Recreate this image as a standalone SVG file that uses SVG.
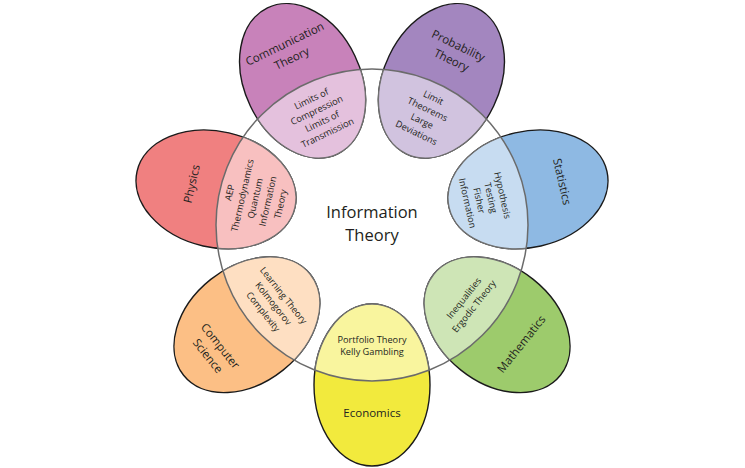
<svg xmlns="http://www.w3.org/2000/svg" width="745" height="468" viewBox="0 0 745 468">
<style>
  .petal { stroke: #1a1a1a; stroke-width: 1.4; }
  .inner { stroke: #707070; stroke-width: 1.4; }
  text { font-family: "Open Sans", "Liberation Sans", sans-serif; fill: #231f20; text-anchor: middle; }
  .outer-label { font-size: 11.5px; }
  .inner-label { font-size: 9.2px; }
  .core-label { font-size: 16.5px; }
  .ring { fill: none; stroke: #6b6b6b; stroke-width: 1.5; }
</style>
<defs>
  <clipPath id="inCircle" clipPathUnits="userSpaceOnUse">
    <circle cx="372" cy="225" r="156"/>
  </clipPath>
</defs>
<rect width="745" height="468" fill="#ffffff"/>

<!-- Communication Theory -->
<g id="communication-theory" transform="rotate(-25.714 372 225)">
  <ellipse class="petal" cx="372" cy="65" rx="58" ry="81" fill="#c882ba"/>
  <ellipse class="inner" cx="372" cy="65" rx="58" ry="81" fill="#e4c1dd" clip-path="url(#inCircle)"/>
  <text class="outer-label" x="372" y="28">Communication</text>
  <text class="outer-label" x="372" y="44">Theory</text>
  <text class="inner-label" x="372" y="88.3">Limits of</text>
  <text class="inner-label" x="372" y="100.8">Compression</text>
  <text class="inner-label" x="372" y="113.3">Limits of</text>
  <text class="inner-label" x="372" y="125.8">Transmission</text>
</g>

<!-- Probability Theory -->
<g id="probability-theory" transform="rotate(25.714 372 225)">
  <ellipse class="petal" cx="372" cy="65" rx="58" ry="81" fill="#a386bf"/>
  <ellipse class="inner" cx="372" cy="65" rx="58" ry="81" fill="#d1c3df" clip-path="url(#inCircle)"/>
  <text class="outer-label" x="372" y="30">Probability</text>
  <text class="outer-label" x="372" y="46">Theory</text>
  <text class="inner-label" x="372" y="86.8">Limit</text>
  <text class="inner-label" x="372" y="99.8">Theorems</text>
  <text class="inner-label" x="372" y="112.8">Large</text>
  <text class="inner-label" x="372" y="125.8">Deviations</text>
</g>

<!-- Statistics -->
<g id="statistics" transform="rotate(77.143 372 225)">
  <ellipse class="petal" cx="372" cy="65" rx="58" ry="81" fill="#8eb9e3"/>
  <ellipse class="inner" cx="372" cy="65" rx="58" ry="81" fill="#c7dcf1" clip-path="url(#inCircle)"/>
  <text class="outer-label" x="372" y="34">Statistics</text>
  <text class="inner-label" x="372" y="94.3">Hypothesis</text>
  <text class="inner-label" x="372" y="106.3">Testing</text>
  <text class="inner-label" x="372" y="118.3">Fisher</text>
  <text class="inner-label" x="372" y="130.3">Information</text>
</g>

<!-- Physics -->
<g id="physics" transform="rotate(-77.143 372 225)">
  <ellipse class="petal" cx="372" cy="65" rx="58" ry="81" fill="#f08080"/>
  <ellipse class="inner" cx="372" cy="65" rx="58" ry="81" fill="#f8c0c0" clip-path="url(#inCircle)"/>
  <text class="outer-label" x="372" y="44">Physics</text>
  <text class="inner-label" x="372" y="82.3">AEP</text>
  <text class="inner-label" x="372" y="95.3">Thermodynamics</text>
  <text class="inner-label" x="372" y="108.3">Quantum</text>
  <text class="inner-label" x="372" y="121.3">Information</text>
  <text class="inner-label" x="372" y="134.3">Theory</text>
</g>

<!-- Mathematics -->
<g id="mathematics" transform="rotate(-51.429 372 225)">
  <ellipse class="petal" cx="372" cy="385" rx="58" ry="81" fill="#9dcb6c"/>
  <ellipse class="inner" cx="372" cy="385" rx="58" ry="81" fill="#cee5b6" clip-path="url(#inCircle)"/>
  <text class="outer-label" x="372" y="420">Mathematics</text>
  <text class="inner-label" x="372" y="345.7">Inequalities</text>
  <text class="inner-label" x="372" y="358.7">Ergodic Theory</text>
</g>

<!-- Economics -->
<g id="economics">
  <ellipse class="petal" cx="372" cy="385" rx="58" ry="81" fill="#f2ea3d"/>
  <ellipse class="inner" cx="372" cy="385" rx="58" ry="81" fill="#f9f59e" clip-path="url(#inCircle)"/>
  <text class="outer-label" x="372" y="417">Economics</text>
  <text class="inner-label" x="372" y="343">Portfolio Theory</text>
  <text class="inner-label" x="372" y="355">Kelly Gambling</text>
</g>

<!-- Computer Science -->
<g id="computer-science" transform="rotate(51.429 372 225)">
  <ellipse class="petal" cx="372" cy="385" rx="58" ry="81" fill="#fcbf85"/>
  <ellipse class="inner" cx="372" cy="385" rx="58" ry="81" fill="#fedfc2" clip-path="url(#inCircle)"/>
  <text class="outer-label" x="372" y="423">Computer</text>
  <text class="outer-label" x="372" y="439">Science</text>
  <text class="inner-label" x="372" y="341.3">Learning Theory</text>
  <text class="inner-label" x="372" y="354.3">Kolmogorov</text>
  <text class="inner-label" x="372" y="367.3">Complexity</text>
</g>

<!-- Central node -->
<g id="information-theory">
  <circle class="ring" cx="372" cy="225" r="156"/>
  <text class="core-label" x="372" y="218">Information</text>
  <text class="core-label" x="372" y="241">Theory</text>
</g>

<g id="connectors"></g>
</svg>
